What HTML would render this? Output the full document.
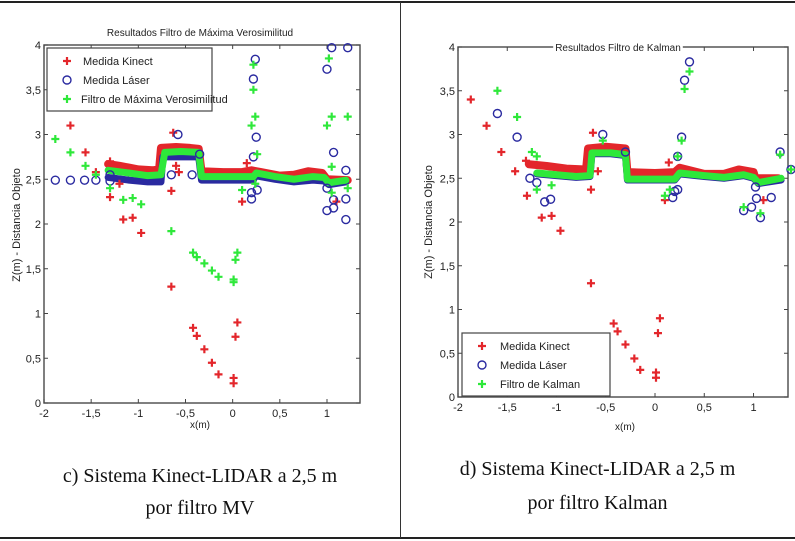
<!DOCTYPE html>
<html><head><meta charset="utf-8">
<style>
html,body{margin:0;padding:0;background:#fff;}
#wrap{position:relative;width:795px;height:541px;overflow:hidden;background:#fff;}
.cap{position:absolute;font-family:"Liberation Serif",serif;font-size:20px;color:#111;text-align:center;line-height:32px;}
svg text{font-family:"Liberation Sans Narrow","Liberation Sans",sans-serif;fill:#222;}
</style></head>
<body>
<div id="wrap">
<div style="position:absolute;left:0;top:1px;width:795px;height:2px;background:#222"></div>
<div style="position:absolute;left:0;top:537px;width:795px;height:2px;background:#222"></div>
<div style="position:absolute;left:400px;top:2px;width:1px;height:536px;background:#333"></div>
<svg id="svg" width="795" height="541" style="position:absolute;left:0;top:0"></svg>
<div class="cap" style="left:0;top:460px;width:400px">c) Sistema Kinect-LIDAR a 2,5 m<br>por filtro MV</div>
<div class="cap" style="left:400px;top:452px;width:395px;line-height:34px">d) Sistema Kinect-LIDAR a 2,5 m<br>por filtro Kalman</div>
</div>
<script>
const xTicks=[-2,-1.5,-1,-0.5,0,0.5,1];
const yTicks=[0,0.5,1,1.5,2,2.5,3,3.5,4];
const xTickLabels=["-2","-1,5","-1","-0,5","0","0,5","1"];
const yTickLabels=["0","0,5","1","1,5","2","2,5","3","3,5","4"];

// Left chart (MV)
const leftKinectBand=[[-1.32,2.67],[-1.2,2.65],[-1.1,2.63],[-1.0,2.61],[-0.85,2.6],[-0.78,2.61],[-0.76,2.85],[-0.6,2.86],[-0.45,2.85],[-0.36,2.84],[-0.33,2.59],[-0.1,2.58],[0.1,2.58],[0.2,2.6],[0.3,2.58],[0.5,2.54],[0.65,2.55],[0.8,2.59],[0.95,2.57],[1.0,2.5],[1.22,2.49]];
const leftLaserBand=[[-1.32,2.52],[-1.1,2.49],[-0.9,2.47],[-0.76,2.47],[-0.74,2.75],[-0.5,2.75],[-0.36,2.75],[-0.33,2.49],[0.0,2.49],[0.22,2.49],[0.24,2.54],[0.45,2.5],[0.65,2.47],[0.85,2.49],[0.97,2.48],[1.02,2.44],[1.2,2.47]];
const leftFilterBand=[[-1.32,2.6],[-1.1,2.57],[-0.9,2.54],[-0.76,2.55],[-0.72,2.8],[-0.55,2.81],[-0.36,2.8],[-0.33,2.53],[0.0,2.53],[0.22,2.53],[0.25,2.57],[0.45,2.53],[0.65,2.5],[0.85,2.53],[0.97,2.52],[1.02,2.46],[1.2,2.49]];
const leftKinect=[[-1.72,3.1],[-1.56,2.8],[-1.45,2.58],[-1.3,2.7],[-1.3,2.3],[-1.2,2.45],[-1.16,2.05],[-1.06,2.07],[-0.97,1.9],[-0.65,2.37],[-0.65,1.3],[-0.63,3.02],[-0.6,2.65],[-0.57,2.58],[-0.42,0.84],[-0.38,0.75],[-0.3,0.6],[-0.22,0.45],[-0.15,0.32],[0.01,0.28],[0.01,0.22],[0.03,0.74],[0.05,0.9],[0.1,2.25],[0.15,2.68],[1.1,2.25]];
const leftLaser=[[-1.88,2.49],[-1.72,2.49],[-1.57,2.49],[-1.45,2.49],[-1.3,2.55],[-1.3,2.48],[-0.65,2.55],[-0.58,3.0],[-0.43,2.55],[-0.35,2.78],[0.2,2.28],[0.2,2.35],[0.22,3.62],[0.24,3.84],[0.22,2.75],[0.25,2.97],[0.26,2.38],[1.0,3.73],[1.0,2.4],[1.0,2.15],[1.05,3.97],[1.07,2.8],[1.07,2.18],[1.07,2.27],[1.2,2.6],[1.2,2.05],[1.22,3.97],[1.2,2.28]];
const leftFilter=[[-1.88,2.95],[-1.72,2.8],[-1.56,2.65],[-1.45,2.55],[-1.3,2.4],[-1.16,2.27],[-1.06,2.29],[-0.97,2.22],[-0.65,1.92],[-0.42,1.68],[-0.38,1.63],[-0.3,1.56],[-0.22,1.48],[-0.15,1.41],[0.01,1.35],[0.01,1.38],[0.03,1.6],[0.05,1.68],[0.1,2.38],[0.2,3.1],[0.22,3.5],[0.22,3.78],[0.24,3.2],[0.24,2.45],[0.26,2.78],[1.0,3.1],[1.02,3.85],[1.05,3.2],[1.05,2.64],[1.05,2.35],[1.22,3.2],[1.22,2.4]];

// Right chart (Kalman)
const rightKinectBand=[[-1.28,2.66],[-1.1,2.64],[-0.9,2.61],[-0.7,2.6],[-0.68,2.84],[-0.5,2.86],[-0.3,2.84],[-0.28,2.57],[0.0,2.56],[0.2,2.57],[0.25,2.62],[0.5,2.55],[0.7,2.55],[0.85,2.6],[1.0,2.57],[1.02,2.5],[1.25,2.5]];
const rightLaserBand=[[-1.2,2.55],[-1.0,2.53],[-0.8,2.51],[-0.66,2.52],[-0.64,2.78],[-0.45,2.78],[-0.3,2.76],[-0.28,2.48],[0.0,2.48],[0.2,2.48],[0.25,2.55],[0.5,2.52],[0.7,2.5],[0.9,2.53],[1.0,2.5],[1.05,2.44],[1.28,2.48]];
const rightFilterBand=[[-1.2,2.56],[-1.0,2.54],[-0.8,2.52],[-0.66,2.53],[-0.64,2.79],[-0.45,2.79],[-0.3,2.77],[-0.28,2.49],[0.0,2.49],[0.2,2.49],[0.25,2.56],[0.5,2.53],[0.7,2.51],[0.9,2.54],[1.0,2.51],[1.05,2.45],[1.28,2.5]];
const rightKinect=[[-1.87,3.4],[-1.71,3.1],[-1.56,2.8],[-1.42,2.58],[-1.31,2.7],[-1.3,2.3],[-1.15,2.05],[-1.05,2.07],[-0.96,1.9],[-0.65,2.37],[-0.65,1.3],[-0.63,3.02],[-0.58,2.58],[-0.42,0.84],[-0.38,0.75],[-0.3,0.6],[-0.21,0.44],[-0.15,0.31],[0.01,0.28],[0.01,0.22],[0.03,0.73],[0.05,0.9],[0.1,2.25],[0.14,2.68],[1.1,2.25]];
const rightLaser=[[-1.6,3.24],[-1.4,2.97],[-1.27,2.5],[-1.2,2.45],[-1.12,2.23],[-1.06,2.26],[-0.53,3.0],[-0.3,2.8],[0.18,2.28],[0.2,2.35],[0.23,2.37],[0.23,2.75],[0.27,2.97],[0.3,3.62],[0.35,3.83],[0.9,2.13],[0.98,2.17],[1.02,2.4],[1.03,2.27],[1.07,2.05],[1.18,2.28],[1.27,2.8],[1.38,2.6]];
const rightFilter=[[-1.6,3.5],[-1.4,3.2],[-1.25,2.8],[-1.2,2.75],[-1.2,2.37],[-1.05,2.42],[0.1,2.3],[0.15,2.37],[0.27,2.93],[0.3,3.52],[0.35,3.72],[0.23,2.75],[0.9,2.17],[1.07,2.1],[1.27,2.77],[1.38,2.6],[-0.53,2.93]];

const NS="http://www.w3.org/2000/svg";
const svg=document.getElementById('svg');
function mk(tag,attrs,parent){const e=document.createElementNS(NS,tag);for(const k in attrs)e.setAttribute(k,attrs[k]);(parent||svg).appendChild(e);return e;}
const RED="#e3262b",BLUE="#2a2aa0",GREEN="#2ee83a";

function chart(cfg){
  const g=mk('g',{});
  
  
  const sx=x=>cfg.x0+(x-cfg.xmin)/(cfg.xmax-cfg.xmin)*(cfg.x1-cfg.x0);
  const sy=y=>cfg.y0-(y-0)/(4-0)*(cfg.y0-cfg.y1);
  const ax=mk('rect',{x:cfg.x0,y:cfg.y1,width:cfg.x1-cfg.x0,height:cfg.y0-cfg.y1,fill:'#fff',stroke:'#555','stroke-width':1.5},g);
  
  
  xTicks.forEach((t,i)=>{
    const X=sx(t);
    mk('line',{x1:X,x2:X,y1:cfg.y0,y2:cfg.y0-4,stroke:'#444'},g);
    mk('line',{x1:X,x2:X,y1:cfg.y1,y2:cfg.y1+4,stroke:'#444'},g);
    const tx=mk('text',{x:X,y:cfg.y0+14,'font-size':11,'text-anchor':'middle'},g);
    tx.textContent=xTickLabels[i];
    
    
  });
  yTicks.forEach((t,i)=>{
    const Y=sy(t);
    mk('line',{x1:cfg.x0,x2:cfg.x0+4,y1:Y,y2:Y,stroke:'#444'},g);
    mk('line',{x1:cfg.x1,x2:cfg.x1-4,y1:Y,y2:Y,stroke:'#444'},g);
    const tx=mk('text',{x:cfg.x0-3,y:Y+4,'font-size':11,'text-anchor':'end'},g);
    tx.textContent=yTickLabels[i];
    
    
  });
  function band(pts,color,w,nm){
    const p=mk('polyline',{points:pts.map(d=>sx(d[0])+','+sy(d[1])).join(' '),fill:'none',stroke:color,'stroke-width':w,'stroke-linejoin':'round','stroke-linecap':'round'},g);
    
    
  }
  function plus(pts,color,nm){
    pts.forEach(d=>{
      const X=sx(d[0]),Y=sy(d[1]);
      const p=mk('path',{d:`M${X-4},${Y}H${X+4}M${X},${Y-4}V${Y+4}`,stroke:color,'stroke-width':2.2},g);
      
      
    });
  }
  function circ(pts,nm){
    pts.forEach(d=>{
      const c=mk('circle',{cx:sx(d[0]),cy:sy(d[1]),r:4,fill:'none',stroke:BLUE,'stroke-width':1.4},g);
      
      
    });
  }
  band(cfg.kb,RED,8,'kinect-band');
  band(cfg.lb,BLUE,7,'laser-band');
  band(cfg.fb,GREEN,7,'filter-band');
  plus(cfg.k,RED,'kinect-point');
  circ(cfg.l,'laser-point');
  plus(cfg.f,GREEN,'filter-point');
  const L=cfg.leg;
  const lr=mk('rect',{x:L.x,y:L.y,width:L.w,height:L.h,fill:'#fff',stroke:'#444','stroke-width':1.2},g);
  
  
  const names=['Medida Kinect','Medida Láser',cfg.fname];
  names.forEach((n,i)=>{
    const Y=L.y+13+i*19, X=L.x+20;
    if(i==1){mk('circle',{cx:X,cy:Y,r:4,fill:'none',stroke:BLUE,'stroke-width':1.4},g);}
    else{mk('path',{d:`M${X-4},${Y}H${X+4}M${X},${Y-4}V${Y+4}`,stroke:i==0?RED:GREEN,'stroke-width':2.2},g);}
    const t=mk('text',{x:X+(i==2?L.tx2:L.tx),y:Y+4,'font-size':11},g);
    t.textContent=n;
    
    
  });
  const tt=mk('text',{x:cfg.tx,y:cfg.ty,'font-size':10,'text-anchor':'middle'},g);
  tt.textContent=cfg.title;
  
  
  if(cfg.titleBg){const bb=tt.getBBox();const r=mk('rect',{x:bb.x-2,y:bb.y,width:bb.width+4,height:bb.height,fill:'#fff'},g);g.insertBefore(r,tt);}
  const xl=mk('text',{x:cfg.xlx,y:cfg.xly,'font-size':10,'text-anchor':'middle'},g);
  xl.textContent='x(m)';
  
  
  const yl=mk('text',{x:0,y:0,'font-size':11,'text-anchor':'middle',transform:`translate(${cfg.ylx},${cfg.yly}) rotate(-90)`},g);
  yl.textContent='Z(m) - Distancia Objeto';
  
  
}
chart({name:'chart-mv',x0:44,x1:360,y0:403,y1:45,xmin:-2,xmax:1.35,kb:leftKinectBand,lb:leftLaserBand,fb:leftFilterBand,k:leftKinect,l:leftLaser,f:leftFilter,
  leg:{x:47,y:48,w:165,h:63,tx:16,tx2:14},fname:'Filtro de Máxima Verosimilitud',title:'Resultados  Filtro de Máxima Verosimilitud',tx:200,ty:36,xlx:200,xly:428,ylx:20,yly:225});
chart({name:'chart-kalman',x0:458,x1:788,y0:397,y1:47,xmin:-2,xmax:1.35,kb:rightKinectBand,lb:rightLaserBand,fb:rightFilterBand,k:rightKinect,l:rightLaser,f:rightFilter,
  leg:{x:462,y:333,w:148,h:63,tx:18,tx2:18},fname:'Filtro de Kalman',title:'Resultados   Filtro de Kalman',tx:618,ty:51,titleBg:true,xlx:625,xly:430,ylx:432,yly:222});
</script>
</body></html>
